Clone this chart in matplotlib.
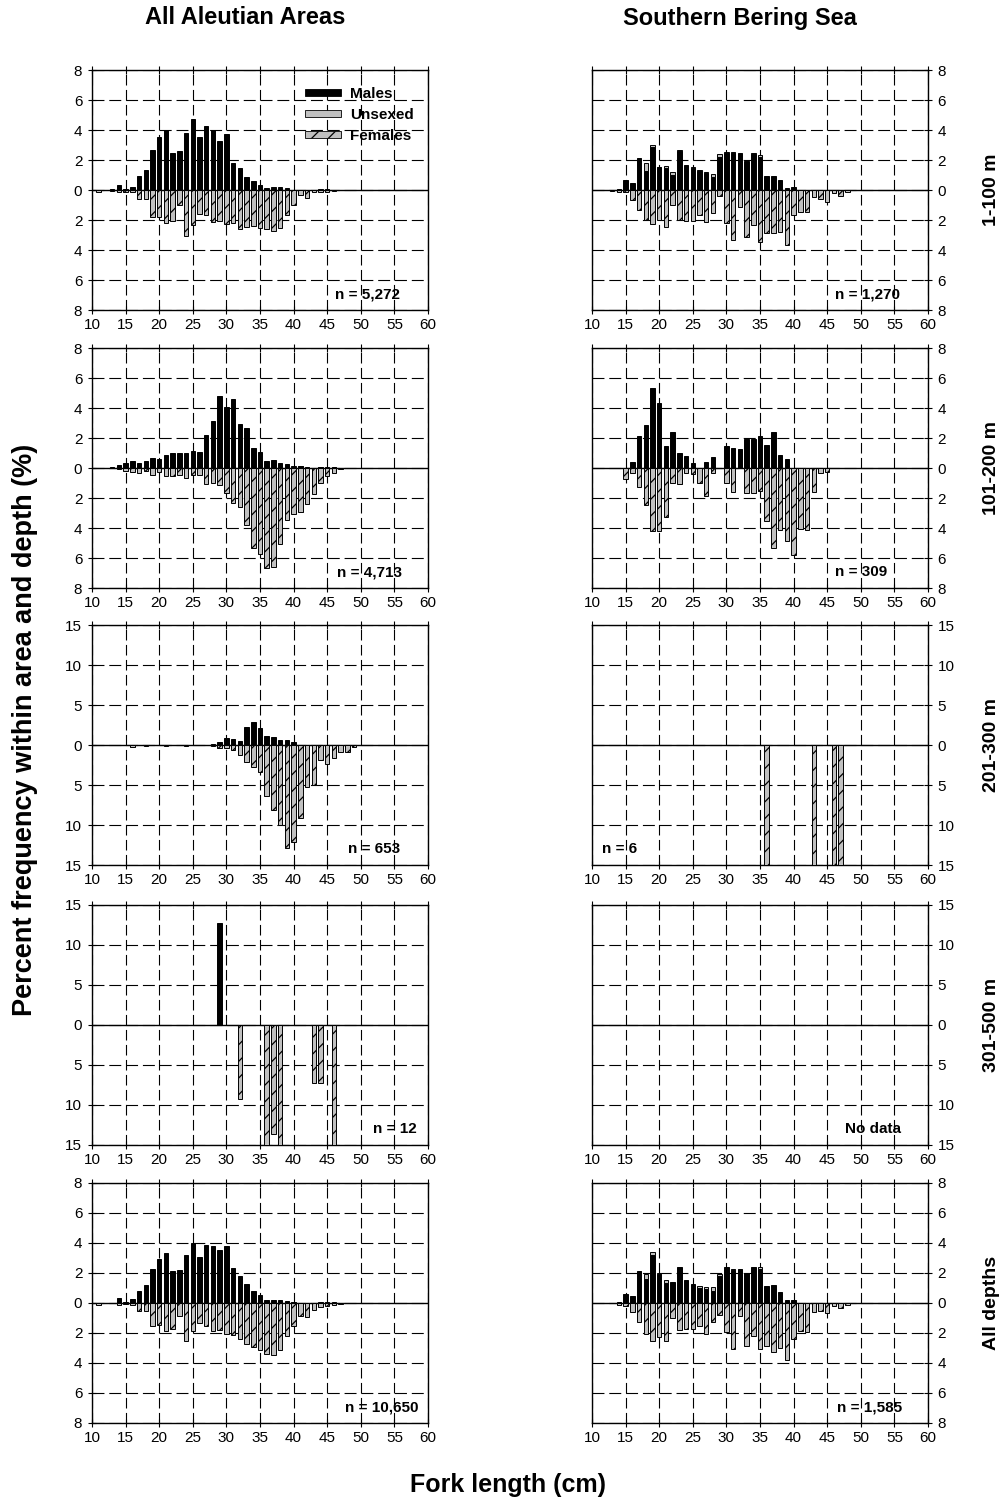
import numpy as np
import matplotlib
matplotlib.use('Agg')
import matplotlib.pyplot as plt
from matplotlib.patches import Patch
from matplotlib.ticker import FuncFormatter, MultipleLocator

plt.rcParams['font.family'] = ['Liberation Sans', 'DejaVu Sans']
plt.rcParams['hatch.linewidth'] = 0.9
plt.rcParams['lines.scale_dashes'] = False

# fork length bins (cm) shared by the dense panels
fork_len = list(range(11, 50))

# All Aleutian Areas, 1-100 m
a1_males = [0, 0, 0.05, 0.33, 0.1, 0.22, 0.96, 1.33, 2.7, 3.55,
            4.0, 2.44, 2.6, 3.78, 4.73, 3.55, 4.29, 4.0, 3.29, 3.73,
            1.78, 1.47, 0.89, 0.62, 0.33, 0.1, 0.12, 0.12, 0.05, 0,
            0, 0, 0, 0, 0, 0, 0.03, 0, 0]
a1_unsexed = [0] * 25 + [0.05, 0.05, 0.05, 0.08, 0, 0, 0, 0, 0.05, 0.05, 0, 0, 0, 0]
a1_females = [0.15, 0, 0.05, 0.1, 0.1, 0.1, 0.6, 0.6, 1.82, 1.82,
              2.2, 2.04, 0.98, 3.04, 2.3, 1.6, 1.67, 2.15, 2.04, 2.27,
              2.2, 2.6, 2.49, 2.4, 2.56, 2.6, 2.7, 2.53, 1.67, 0.98,
              0.33, 0.5, 0.15, 0.13, 0.1, 0.05, 0, 0, 0]

# Southern Bering Sea, 1-100 m
b1_males = [0, 0.02, 0, 0.05, 0.67, 0.44, 2.13, 1.29, 2.89, 1.51,
            1.45, 1.02, 2.6, 1.67, 1.44, 1.29, 1.13, 0.9, 2.2, 2.47,
            2.45, 2.5, 1.96, 2.4, 2.2, 0.93, 0.93, 0.67, 0.05, 0.18,
            0, 0, 0, 0, 0, 0, 0, 0, 0]
b1_unsexed = [0, 0, 0, 0, 0, 0, 0, 0.49, 0.13, 0.05,
              0.12, 0.15, 0.07, 0, 0.07, 0.07, 0.07, 0.18, 0.2, 0.09,
              0.07, 0, 0, 0.07, 0.12, 0, 0, 0, 0.08, 0,
              0, 0, 0, 0, 0, 0, 0, 0, 0]
b1_females = [0, 0.03, 0.05, 0.15, 0.12, 0.67, 1.33, 2.0, 2.27, 1.98,
              2.44, 1.0, 2.0, 2.04, 2.04, 1.64, 2.15, 1.56, 0.4, 2.22,
              3.33, 1.1, 3.16, 2.33, 3.44, 2.89, 2.89, 2.82, 3.64, 1.64,
              1.49, 1.49, 0.44, 0.6, 0.78, 0.22, 0.38, 0.15, 0]

# All Aleutian Areas, 101-200 m
a2_males = [0, 0, 0.05, 0.18, 0.34, 0.45, 0.34, 0.5, 0.68, 0.61,
            0.86, 1.01, 0.97, 1.01, 1.13, 1.08, 2.18, 3.15, 4.8, 4.05,
            4.57, 2.93, 2.7, 1.35, 1.06, 0.45, 0.52, 0.34, 0.29, 0.08,
            0.12, 0.05, 0, 0.05, 0.03, 0.05, 0.02, 0, 0]
a2_unsexed = [0] * 29 + [0.04, 0.03, 0, 0, 0.05, 0.04, 0.03, 0, 0, 0]
a2_females = [0, 0, 0.03, 0.07, 0.22, 0.27, 0.34, 0.22, 0.45, 0.29,
              0.56, 0.56, 0.45, 0.68, 0.45, 0.45, 1.06, 0.97, 1.13, 1.64,
              2.36, 2.59, 3.83, 5.34, 5.74, 6.64, 6.6, 5.07, 3.49, 3.09,
              2.93, 2.43, 1.73, 0.97, 0.56, 0.34, 0.05, 0, 0]

# Southern Bering Sea, 101-200 m
b2_males = [0, 0, 0, 0, 0, 0.38, 2.14, 2.88, 5.36, 4.32,
            1.46, 2.43, 1.01, 0.79, 0.34, 0, 0.38, 0.72, 0, 1.46,
            1.35, 1.24, 1.91, 1.91, 2.14, 1.51, 2.41, 0.9, 0.63, 0,
            0, 0, 0, 0, 0, 0, 0, 0, 0]
b2_females = [0, 0, 0, 0, 0.72, 0.34, 1.28, 2.48, 4.21, 4.23,
              3.27, 1.01, 1.06, 0.34, 0.38, 1.01, 1.87, 0.34, 0, 1.01,
              1.62, 0, 1.64, 1.64, 1.53, 3.54, 5.34, 4.1, 4.84, 5.81,
              4.05, 4.1, 1.58, 0.35, 0.25, 0, 0, 0, 0]

# All Aleutian Areas, 201-300 m
a3_males = [0] * 17 + [0.15, 0.42, 0.88,
            0.75, 0.54, 2.29, 2.92, 2.13, 1.17, 1.04, 0.63, 0.63, 0.33,
            0, 0, 0, 0, 0, 0, 0, 0, 0]
a3_females = [0, 0, 0, 0, 0, 0.3, 0, 0.1, 0, 0,
              0.1, 0, 0, 0.1, 0, 0, 0, 0.1, 0.42, 0.42,
              0.58, 1.21, 2.17, 2.71, 3.42, 6.33, 8.08, 10.0, 12.92, 12.17,
              9.13, 5.21, 5.0, 1.83, 2.38, 1.67, 0.92, 0.83, 0.3]

# Southern Bering Sea, 201-300 m (n = 6)
b3_len = [36, 43, 46, 47]
b3_females = [16.7, 16.7, 33.3, 33.3]

# All Aleutian Areas, 301-500 m (n = 12)
a4_male_len = [29]
a4_males = [12.7]
a4_female_len = [32, 36, 37, 38, 43, 44, 46]
a4_females = [9.3, 16.7, 13.6, 16.7, 7.3, 7.3, 16.7]

# All Aleutian Areas, all depths
a5_males = [0, 0, 0.03, 0.33, 0.1, 0.27, 0.82, 1.18, 2.29, 2.96,
            3.33, 2.16, 2.22, 3.22, 4.0, 3.07, 3.84, 3.82, 3.56, 3.78,
            2.33, 1.78, 1.29, 0.82, 0.51, 0.22, 0.22, 0.22, 0.16, 0.07,
            0, 0, 0, 0, 0, 0, 0.02, 0, 0]
a5_unsexed = [0] * 33 + [0.07, 0.07, 0.05, 0, 0, 0]
a5_females = [0.1, 0, 0, 0.1, 0.05, 0.1, 0.56, 0.51, 1.51, 1.49,
              1.84, 1.71, 0.84, 2.56, 1.89, 1.33, 1.51, 1.84, 1.82, 2.07,
              2.16, 2.38, 2.71, 2.96, 3.11, 3.4, 3.49, 3.11, 2.22, 1.56,
              0.89, 0.93, 0.49, 0.29, 0.22, 0.16, 0.05, 0, 0]

# Southern Bering Sea, all depths
b5_males = [0, 0.03, 0.03, 0.08, 0.6, 0.49, 2.16, 1.6, 3.22, 1.95,
            1.33, 1.4, 2.38, 1.51, 1.29, 1.0, 0.96, 0.78, 1.78, 2.38,
            2.22, 2.29, 2.0, 2.38, 2.27, 1.11, 1.22, 0.73, 0.22, 0.22,
            0, 0, 0, 0, 0, 0, 0, 0, 0]
b5_unsexed = [0, 0, 0, 0, 0, 0, 0, 0.36, 0.18, 0.05,
              0.22, 0, 0, 0, 0, 0.11, 0.09, 0.27, 0.18, 0,
              0.07, 0, 0, 0, 0.11, 0, 0, 0, 0, 0,
              0, 0, 0, 0, 0, 0, 0, 0, 0]
b5_females = [0, 0, 0, 0.1, 0.22, 0.6, 1.29, 2.07, 2.56, 2.27,
              2.56, 1.0, 1.78, 1.71, 1.71, 1.51, 2.07, 1.29, 0.78, 1.96,
              3.07, 0.84, 2.84, 2.18, 3.07, 2.89, 3.29, 3.0, 3.82, 2.38,
              1.89, 1.93, 0.62, 0.56, 0.67, 0.22, 0.33, 0.11, 0]

col_titles = ['All Aleutian Areas', 'Southern Bering Sea']
row_labels = ['1-100 m', '101-200 m', '201-300 m', '301-500 m', 'All depths']

W, H = 1005, 1506
col_left = [92, 592]
panel_w = 336
row_top = [70, 348, 625, 905, 1183]
panel_h = 240

GRAY = '#c0c0c0'

fig = plt.figure(figsize=(W / 100, H / 100), dpi=100)


def bars(ax, xs, vals, sign=1, bottom=None, **kw):
    xs = np.asarray(xs, float)
    v = np.asarray(vals, float)
    keep = v > 0
    if not keep.any():
        return
    b = None if bottom is None else np.asarray(bottom, float)[keep]
    ax.bar(xs[keep], sign * v[keep], 0.67, bottom=b, zorder=3, linewidth=0.7, edgecolor='black', **kw)


def setup(ax, lim, step, right):
    ax.set_xlim(10, 60)
    ax.set_ylim(-lim, lim)
    ax.xaxis.set_major_locator(MultipleLocator(5))
    ax.yaxis.set_major_locator(MultipleLocator(step))
    ax.yaxis.set_major_formatter(FuncFormatter(lambda v, p: f'{abs(v):g}'))
    ax.set_axisbelow(True)
    ax.xaxis.grid(True, color='black', lw=0.8, linestyle=(0, (7.6, 3.2)))
    ax.yaxis.grid(True, color='black', lw=0.8, linestyle=(0, (8.6, 3.5)))
    ax.axhline(0, color='black', lw=1.0, zorder=2)
    if right:
        ax.yaxis.tick_right()
    ax.tick_params(direction='inout', length=6, width=0.8, labelsize=11, top=True)
    ax.tick_params(axis='x', pad=3)
    ax.tick_params(axis='y', pad=4)
    for s in ax.spines.values():
        s.set_linewidth(1.0)


def panel(col, row):
    return fig.add_axes([col_left[col] / W, 1 - (row_top[row] + panel_h) / H,
                         panel_w / W, panel_h / H])


def note(ax, x, txt):
    ax.text(x, 0.065, txt, transform=ax.get_xaxis_transform(), fontsize=11,
            fontweight='bold', ha='left', va='center', zorder=5)


# dense panels
dense = [
    (0, 0, a1_males, a1_unsexed, a1_females, 'n = 5,272', 46.2),
    (1, 0, b1_males, b1_unsexed, b1_females, 'n = 1,270', 46.2),
    (0, 1, a2_males, a2_unsexed, a2_females, 'n = 4,713', 46.4),
    (1, 1, b2_males, [0] * 39, b2_females, 'n = 309', 46.2),
    (0, 2, a3_males, [0] * 39, a3_females, 'n = 653', 48.1),
    (0, 4, a5_males, a5_unsexed, a5_females, 'n = 10,650', 47.6),
    (1, 4, b5_males, b5_unsexed, b5_females, 'n = 1,585', 46.5),
]
axes = {}
for col, row in [(c, r) for r in range(5) for c in range(2)]:
    ax = panel(col, row)
    lim, step = (15, 5) if row in (2, 3) else (8, 2)
    setup(ax, lim, step, col == 1)
    axes[(col, row)] = ax

for col, row, m, u, f, txt, tx in dense:
    ax = axes[(col, row)]
    bars(ax, fork_len, m, color='black')
    bars(ax, fork_len, u, bottom=m, color=GRAY)
    bars(ax, fork_len, f, sign=-1, color=GRAY, hatch='//')
    note(ax, tx, txt)

ax = axes[(1, 2)]
bars(ax, b3_len, b3_females, sign=-1, color=GRAY, hatch='//')
note(ax, 11.5, 'n = 6')

ax = axes[(0, 3)]
bars(ax, a4_male_len, a4_males, color='black')
bars(ax, a4_female_len, a4_females, sign=-1, color=GRAY, hatch='//')
note(ax, 51.8, 'n = 12')

note(axes[(1, 3)], 47.7, 'No data')

# legend in the first panel
handles = [Patch(facecolor='black', edgecolor='black', lw=0.6),
           Patch(facecolor=GRAY, edgecolor='black', lw=0.6),
           Patch(facecolor=GRAY, edgecolor='black', lw=0.6, hatch='//')]
axes[(0, 0)].legend(handles, ['Males', 'Unsexed', 'Females'], loc='upper left',
                    bbox_to_anchor=(0.615, 0.955), frameon=False,
                    prop={'weight': 'bold', 'size': 11}, handlelength=2.4,
                    handleheight=0.32, labelspacing=0.45, handletextpad=0.55,
                    borderaxespad=0)

# column titles, row labels, axis labels
for col, title in enumerate(col_titles):
    cx = [245, 740][col]
    fig.text(cx / W, 1 - 18 / H, title, ha='center', va='center',
             fontsize=17, fontweight='bold')
for row, lab in enumerate(row_labels):
    cy = row_top[row] + panel_h / 2
    fig.text(991 / W, 1 - cy / H, lab, rotation=90, ha='center', va='center',
             fontsize=14, fontweight='bold')
fig.text(25 / W, 1 - 730 / H, 'Percent frequency within area and depth (%)',
         rotation=90, ha='center', va='center', fontsize=19.5, fontweight='bold')
fig.text(508 / W, 1 - 1485 / H, 'Fork length (cm)', ha='center', va='center',
         fontsize=18, fontweight='bold')

fig.savefig('out.png', dpi=100)
